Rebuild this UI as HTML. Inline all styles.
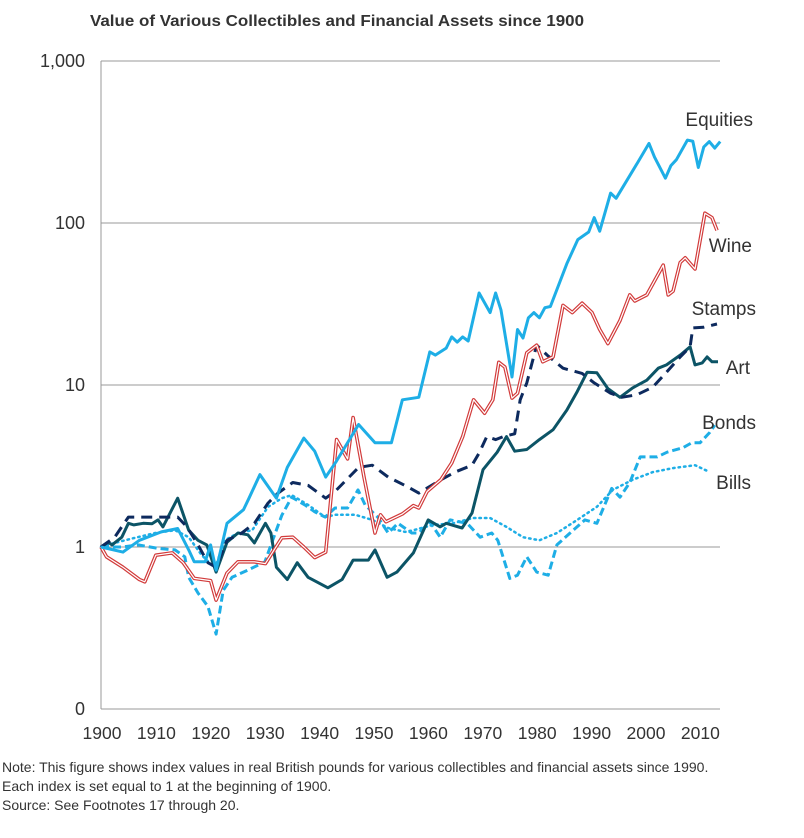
<!DOCTYPE html>
<html><head><meta charset="utf-8">
<style>
html,body{margin:0;padding:0;background:#fff;}
body{width:804px;height:833px;overflow:hidden;font-family:"Liberation Sans",Arial,sans-serif;}
svg text{font-family:"Liberation Sans",Arial,sans-serif;}
</style></head>
<body>
<svg id="chart" width="804" height="833" viewBox="0 0 804 833" xmlns="http://www.w3.org/2000/svg">
<text x="90" y="26" font-size="15.5" font-weight="bold" fill="#333" textLength="494" lengthAdjust="spacingAndGlyphs">Value of Various Collectibles and Financial Assets since 1900</text>
<g id="grid"></g>
<g id="yticks"></g>
<g id="xticks"></g>
<g id="series"></g>
<g id="labels"></g>
<text x="2" y="772" font-size="14" fill="#333">Note: This figure shows index values in real British pounds for various collectibles and financial assets since 1990.</text>
<text x="2" y="791" font-size="14" fill="#333">Each index is set equal to 1 at the beginning of 1900.</text>
<text x="2" y="810" font-size="14" fill="#333">Source: See Footnotes 17 through 20.</text>
</svg>
<script>
const yTickValues = [1000, 100, 10, 1, 0.1];
const yTickLabels = ["1,000", "100", "10", "1", "0"];
const xTickYears = [1900,1910,1920,1930,1940,1950,1960,1970,1980,1990,2000,2010];
const seriesNames = ["Equities","Wine","Stamps","Art","Bonds","Bills"];

const equitiesYears = [1900,1904,1907,1911,1914,1916,1917,1919,1920,1921,1923,1926,1927,1929,1930,1932,1934,1937,1939,1941,1943,1947,1950,1953,1955,1958,1960,1961,1963,1964,1965,1966,1967,1969,1971,1972,1973,1975,1976,1977,1978,1979,1980,1981,1982,1985,1987,1989,1990,1991,1993,1994,1998,2000,2001,2003,2004,2005,2007,2008,2009,2010,2011,2012,2013];
const equitiesValues = [1,0.93,1.1,1.24,1.3,0.96,0.81,0.81,1.03,0.72,1.4,1.7,2.0,2.8,2.5,2.0,3.1,4.7,3.9,2.7,3.4,5.7,4.4,4.4,8.1,8.4,16,15.3,16.9,19.8,18.4,19.8,18.7,37,28,37,29,11.2,22,19.5,26,28,26,30,30.5,56,79,88,108,89,153,142,238,310,255,189,226,246,325,320,220,295,318,290,318];

const wineYears = [1900,1901,1904,1907,1908,1910,1913,1915,1917,1920,1921,1923,1925,1928,1930,1933,1935,1937,1939,1941,1943,1945,1946,1948,1950,1951,1952,1955,1957,1958,1959.5,1962,1964,1966,1968,1970,1971.5,1972.6,1973.7,1975,1976,1977.7,1979.5,1980.6,1982.5,1984.3,1986,1987.8,1989.6,1991,1992.5,1994.7,1996.5,1997.4,1999.6,2002.6,2003.5,2004.4,2005.7,2006.6,2008.4,2010.2,2011.5,2012.4];
const wineValues = [1,0.87,0.75,0.63,0.61,0.89,0.92,0.8,0.64,0.62,0.47,0.69,0.81,0.81,0.79,1.14,1.15,1.0,0.86,0.93,4.6,3.5,6.3,2.7,1.22,1.58,1.43,1.6,1.8,1.74,2.2,2.6,3.3,4.8,8.1,6.7,8.1,13.8,12.9,8.3,8.9,15.8,17.6,13.9,14.9,31,28,32,28,22,18,25,36,33,36,55,36,38,57,61,52,115,108,90];

const stampsYears = [1900,1902.5,1905,1908,1911,1914,1915.7,1917.5,1919.5,1921,1923,1925.7,1928,1930.5,1932.3,1935,1937.8,1941,1942.7,1947,1949.5,1952.4,1956,1958,1962,1964.6,1967.7,1969,1970.4,1972,1973.4,1975.5,1976.5,1977.7,1979.5,1981.4,1984.3,1987.8,1990,1993,1995,1997.8,2000.7,2003,2005.7,2007.5,2008,2009.9,2012.4];
const stampsValues = [1,1.15,1.53,1.53,1.53,1.53,1.33,1.06,0.8,0.75,1.1,1.22,1.4,1.87,2.15,2.5,2.4,2.0,2.2,3.1,3.2,2.7,2.35,2.15,2.6,2.9,3.2,3.8,4.8,4.6,4.8,5.0,8.1,10.3,17.6,15.3,12.7,11.8,10.3,8.9,8.4,8.7,9.7,11.8,14.9,17.2,22.5,22.7,23.8];

const artYears = [1900,1901.3,1902,1903.8,1905,1906,1907.7,1909.3,1910.4,1911.3,1914,1916,1917.7,1919.3,1921,1923,1925,1926.8,1928,1930,1931,1932,1934,1935.8,1937.8,1941.4,1944,1946,1948.8,1950,1952.2,1954,1957,1959.7,1961.9,1963,1965.9,1967.7,1969.7,1972.3,1974,1975.5,1977.7,1980,1982.5,1985,1986.9,1988.7,1990.5,1992.5,1994.7,1997,1999.6,2001.7,2003.2,2005.7,2007.5,2008.4,2009.7,2010.6,2011.5,2012.6];
const artValues = [1,1.07,1.03,1.15,1.4,1.37,1.4,1.39,1.47,1.33,2.0,1.27,1.1,1.03,0.7,1.07,1.22,1.19,1.06,1.4,1.22,0.75,0.63,0.8,0.65,0.56,0.63,0.83,0.83,0.96,0.65,0.7,0.92,1.47,1.33,1.4,1.31,1.62,3.0,3.85,4.8,3.9,4.0,4.6,5.3,7.0,9.1,12.0,11.9,9.5,8.4,9.6,10.7,12.7,13.3,15.3,17.2,13.3,13.7,14.9,13.9,13.9];

const bondsYears = [1900,1903.8,1906.8,1910.4,1913.5,1915.3,1916,1917.7,1919.5,1921,1922.3,1923.9,1926.8,1929.9,1931.8,1933,1934.8,1937.2,1939,1940.9,1942.7,1945,1946.9,1948.2,1950.5,1952.4,1954.2,1956.7,1958,1960,1961.9,1963.7,1966.8,1969.2,1971.3,1972.4,1974.6,1976,1977.7,1979.5,1981.6,1983.2,1985.6,1988.3,1990.5,1993.2,1994.7,1996.5,1998.4,2001.5,2003.3,2006.2,2007.8,2009.3,2011.1,2012];
const bondsValues = [1,1.0,1.03,0.98,0.96,0.87,0.65,0.52,0.43,0.29,0.54,0.65,0.72,0.81,1.22,1.57,2.03,1.82,1.65,1.53,1.74,1.74,2.25,1.82,1.53,1.22,1.4,1.22,1.22,1.43,1.15,1.47,1.4,1.15,1.22,1.1,0.64,0.67,0.87,0.7,0.67,1.03,1.22,1.47,1.4,2.3,2.03,2.5,3.6,3.6,3.85,4.1,4.4,4.4,5.1,5.65];

const billsYears = [1900,1902.5,1906.2,1909.9,1913.5,1916,1918.4,1920.8,1922.6,1925,1927.6,1930.5,1933,1934.8,1937.8,1940.9,1942.7,1946.4,1949.5,1952.4,1955.5,1957,1960.6,1964.2,1967.9,1971,1974,1977,1980,1983.2,1986.9,1990.5,1993.4,1997,2000.7,2004.4,2008.4,2011.1];
const billsValues = [1,1.06,1.14,1.22,1.27,1.15,0.89,0.74,1.1,1.22,1.27,1.77,2.0,2.09,1.82,1.53,1.58,1.58,1.47,1.31,1.24,1.27,1.37,1.4,1.51,1.51,1.33,1.15,1.1,1.22,1.47,1.77,2.25,2.6,2.9,3.07,3.2,2.9];

const NS = "http://www.w3.org/2000/svg";
const X0 = 101, PX_PER_YEAR = 5.48, XEND = 720;
const Y_AT_ONE = 547, PX_PER_DECADE = 162;
function xScale(year){ return X0 + (year - 1900) * PX_PER_YEAR; }
function xLabelScale(year){ return 102 + (year - 1900) * 5.44; }
function yScale(v){ return Y_AT_ONE - Math.log10(v) * PX_PER_DECADE; }
function mk(tag, attrs, parent){
  const el = document.createElementNS(NS, tag);
  for (const k in attrs) el.setAttribute(k, attrs[k]);
  parent.appendChild(el);
  return el;
}
const grid = document.getElementById('grid');
const yt = document.getElementById('yticks');
const xt = document.getElementById('xticks');
const sg = document.getElementById('series');
const lg = document.getElementById('labels');

yTickValues.forEach((v, i) => {
  const y = yScale(v);
  const ln = mk('line', {x1: X0, x2: XEND, y1: y, y2: y, stroke: '#999', 'stroke-width': 1}, grid);
  
  
  const t = mk('text', {x: 85, y: y + 6, 'font-size': 18, fill: '#333', 'text-anchor': 'end'}, yt);
  t.textContent = yTickLabels[i];
  
  
});
const ax = mk('line', {x1: X0, x2: X0, y1: yScale(1000), y2: yScale(0.1), stroke: '#999', 'stroke-width': 1}, grid);



xTickYears.forEach(yr => {
  const t = mk('text', {x: xLabelScale(yr), y: 739, 'font-size': 17.5, fill: '#333', 'text-anchor': 'middle'}, xt);
  t.textContent = String(yr);
  
  
});

function pts(years, vals){ return years.map((y, i) => xScale(y).toFixed(1) + ',' + yScale(vals[i]).toFixed(1)).join(' '); }

function line(name, years, vals, style){
  const p = mk('polyline', Object.assign({points: pts(years, vals), fill: 'none', 'stroke-linejoin': 'round'}, style), sg);
  
  
  return p;
}
const LB = '#1eaee6';
line('bills-line', billsYears, billsValues, {stroke: LB, 'stroke-width': 2.5, 'stroke-dasharray': '1.5 4', 'stroke-linecap': 'round'});
line('bonds-line', bondsYears, bondsValues, {stroke: LB, 'stroke-width': 3, 'stroke-dasharray': '8 4'});
line('art-line', artYears, artValues, {stroke: '#0c5466', 'stroke-width': 3});
line('stamps-line', stampsYears, stampsValues, {stroke: '#0d2a5e', 'stroke-width': 3, 'stroke-dasharray': '11 7'});
line('wine-line', wineYears, wineValues, {stroke: '#d23b3b', 'stroke-width': 3.6});
line('wine-line-inner', wineYears, wineValues, {stroke: '#ffffff', 'stroke-width': 1.2});
line('equities-line', equitiesYears, equitiesValues, {stroke: LB, 'stroke-width': 3});

const labelX = [753, 752, 756, 750, 756, 751];
const labelY = [126, 252, 315, 374, 429, 489];
seriesNames.forEach((n, i) => {
  const t = mk('text', {x: labelX[i], y: labelY[i], 'font-size': 19, fill: '#333', 'text-anchor': 'end'}, lg);
  t.textContent = n;
  
  
});
</script>
</body></html>
